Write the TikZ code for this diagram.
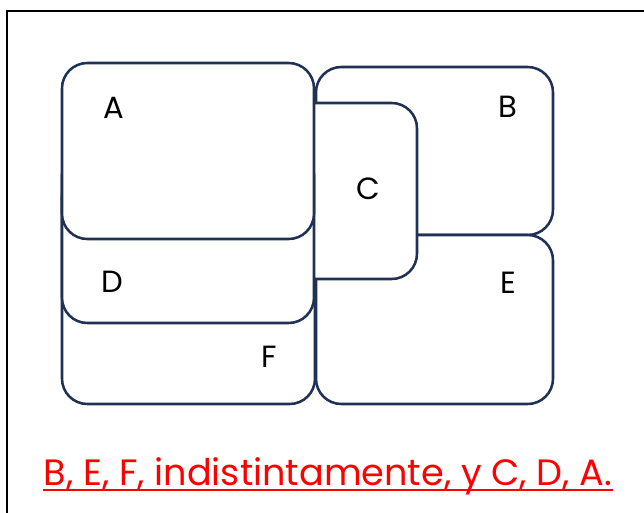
\documentclass[tikz,border=0pt]{standalone}
\usepackage{fontspec}
\setmainfont{Poppins}
\usepackage{tikz}
\usetikzlibrary{positioning}

\definecolor{navy}{HTML}{1F3154}
\tikzset{
    zone/.style={draw=navy, fill=white, line width=1.9pt, rounded corners=19pt},
    letter/.style={font=\fontsize{23}{26}\selectfont, inner sep=0pt}
}

\begin{document}
\begin{tikzpicture}[x=0.75pt, y=-0.75pt]
    \useasboundingbox (0,0) rectangle (644,512);
    \clip (0,0) rectangle (644,512);

    % Frame
    \draw[line width=1.5pt] (7,11) rectangle (700,560);

    % Zones, from bottom to top
    \draw[zone] (316,67) rectangle (553,235);
    \draw[zone] (316,235) rectangle (553,404);
    \draw[zone] (62,170) rectangle (315,404);
    \draw[zone] (250,103) rectangle (417,279);
    \draw[zone] (62,150) rectangle (314,323);
    \draw[zone] (62,63) rectangle (314,239);

    % Letters
    \node[letter] (a) at (114,108) {A};
    \node[letter] (b) at (508,107) {B};
    \node[letter] (c) at (368,189) {C};
    \node[letter] (d) at (112,282) {D};
    \node[letter] (e) at (508,283) {E};
    \node[letter] (f) at (269,357) {F};

    % Answer
    \node[red, anchor=base, inner sep=0pt, font=\fontsize{27.5}{32}\selectfont] (answer) at (328,485)
        {B, E, F, indistintamente, y C, D, A.};
    \draw[red, line width=1.6pt] ([yshift=-4pt]answer.base west) -- ([yshift=-4pt]answer.base east);
\end{tikzpicture}
\end{document}
